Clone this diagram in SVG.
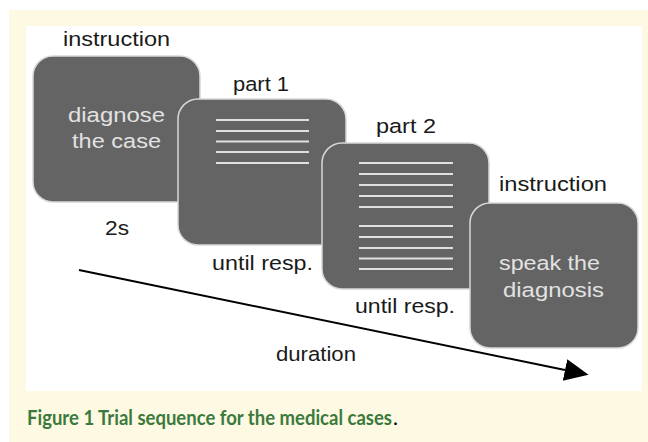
<svg xmlns="http://www.w3.org/2000/svg" width="648" height="442" viewBox="0 0 648 442">
  <style>
    .box { fill: #646464; stroke: #d8d8d8; stroke-width: 1.5; }
    .lbl { font-family: "Liberation Sans", Arial, sans-serif; font-size: 20.5px; fill: #1a1a1a; }
    .in { font-family: "Liberation Sans", Arial, sans-serif; font-size: 20.5px; fill: #e2e2e2; }
    .ln { stroke: #e0e0e0; stroke-width: 2; }
    .cap { font-family: Lato, "Open Sans", sans-serif; font-weight: bold; font-size: 21px; fill: #3b7a3d; }
  </style>
  <defs>
    <marker id="ah" markerUnits="userSpaceOnUse" markerWidth="26" markerHeight="24" refX="0" refY="11" orient="auto" viewBox="0 0 26 24">
      <path d="M0,0 L24,11 L0,22 z" fill="#000"/>
    </marker>
  </defs>
  <rect x="0" y="0" width="648" height="442" fill="#ffffff"/>
  <rect x="9" y="10" width="639" height="432" fill="#fef9e3"/>
  <rect x="26" y="26" width="616" height="365" fill="#ffffff"/>

  <g id="node-instruction1">
    <text class="lbl" x="63" y="46" textLength="107" lengthAdjust="spacingAndGlyphs">instruction</text>
    <rect class="box" x="33" y="56" width="167" height="146" rx="20" ry="20"/>
    <text class="in" x="68" y="122" textLength="97" lengthAdjust="spacingAndGlyphs">diagnose</text>
    <text class="in" x="72" y="148" textLength="89" lengthAdjust="spacingAndGlyphs">the case</text>
    <text class="lbl" x="105" y="235" textLength="24" lengthAdjust="spacingAndGlyphs">2s</text>
  </g>

  <g id="node-part1">
    <text class="lbl" x="233" y="91" textLength="56" lengthAdjust="spacingAndGlyphs">part 1</text>
    <rect class="box" x="178" y="99" width="168" height="146" rx="20" ry="20"/>
    <g class="ln">
      <line x1="216" y1="120" x2="309" y2="120"/>
      <line x1="216" y1="131" x2="309" y2="131"/>
      <line x1="216" y1="141.5" x2="309" y2="141.5"/>
      <line x1="216" y1="152" x2="309" y2="152"/>
      <line x1="216" y1="163" x2="309" y2="163"/>
    </g>
    <text class="lbl" x="212" y="270" textLength="101" lengthAdjust="spacingAndGlyphs">until resp.</text>
  </g>

  <g id="node-part2">
    <text class="lbl" x="376" y="133" textLength="60" lengthAdjust="spacingAndGlyphs">part 2</text>
    <rect class="box" x="322" y="143" width="167" height="146" rx="20" ry="20"/>
    <g class="ln">
      <line x1="359" y1="163" x2="453" y2="163"/>
      <line x1="359" y1="174" x2="453" y2="174"/>
      <line x1="359" y1="185" x2="453" y2="185"/>
      <line x1="359" y1="196" x2="453" y2="196"/>
      <line x1="359" y1="207" x2="453" y2="207"/>
      <line x1="359" y1="226" x2="453" y2="226"/>
      <line x1="359" y1="237" x2="453" y2="237"/>
      <line x1="359" y1="248" x2="453" y2="248"/>
      <line x1="359" y1="258.5" x2="453" y2="258.5"/>
      <line x1="359" y1="269" x2="453" y2="269"/>
    </g>
    <text class="lbl" x="355" y="313" textLength="100" lengthAdjust="spacingAndGlyphs">until resp.</text>
  </g>

  <g id="connectors">
    <line x1="79" y1="270" x2="565" y2="370" stroke="#000" stroke-width="2" marker-end="url(#ah)"/>
    <text class="lbl" x="276" y="361" textLength="80" lengthAdjust="spacingAndGlyphs">duration</text>
  </g>

  <g id="node-instruction2">
    <text class="lbl" x="499" y="191" textLength="108" lengthAdjust="spacingAndGlyphs">instruction</text>
    <rect class="box" x="470" y="203" width="168" height="145" rx="20" ry="20"/>
    <text class="in" x="499" y="270" textLength="101" lengthAdjust="spacingAndGlyphs">speak the</text>
    <text class="in" x="503" y="297" textLength="101" lengthAdjust="spacingAndGlyphs">diagnosis</text>
  </g>

  <text class="cap" x="27" y="425" textLength="365" lengthAdjust="spacingAndGlyphs">Figure 1 Trial sequence for the medical cases</text>
  <text x="393" y="425" font-family="Lato, sans-serif" font-size="21px" fill="#000">.</text>
</svg>
